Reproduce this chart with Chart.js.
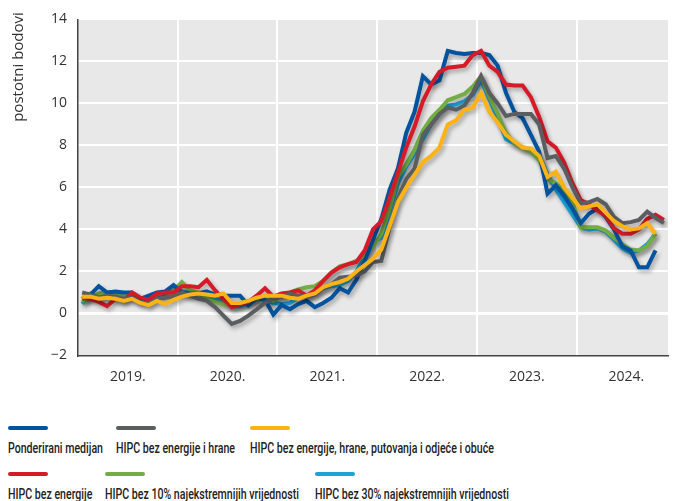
<!DOCTYPE html>
<html>
<head>
<meta charset="utf-8">
<script src="https://cdn.jsdelivr.net/npm/chart.js@4"></script>
<style>
  body { margin: 0; background: #fff; }
  #wrap { position: relative; width: 680px; height: 501px; }
  #chart { position: absolute; left: 0; top: 0; }
  .item { position: absolute; }
  .swatch { width: 40px; height: 4px; border-radius: 2px; margin-bottom: 9px; }
  .lbl { display: inline-block; font-family: Roboto, sans-serif; font-weight: 500; font-size: 14.5px; color: #222; white-space: nowrap; line-height: 16px; transform-origin: 0 0; }
</style>
</head>
<body>
<div id="wrap">
  <canvas id="chart" width="680" height="400"></canvas>
</div>
<script>
// mjesečni podaci, siječanj 2019. - studeni 2024.
const godine = ['2019.', '2020.', '2021.', '2022.', '2023.', '2024.'];

const medijan = [
  0.7, 0.9, 1.3, 1.0, 1.05, 1.0, 1.0, 0.7, 0.85, 1.0, 1.05, 1.35,
  1.0, 0.95, 0.95, 1.05, 0.9, 0.85, 0.85, 0.85, 0.4, 0.75, 0.65, -0.05,
  0.4, 0.2, 0.45, 0.6, 0.3, 0.5, 0.75, 1.2, 1.0, 1.6, 2.5, 3.5,
  4.5, 5.9, 6.9, 8.6, 9.6, 11.3, 10.9, 11.1, 12.5, 12.4, 12.35, 12.4,
  12.4, 12.3, 11.8, 10.5, 9.6, 9.3, 8.5, 7.7, 5.7, 6.1, 5.6, 5.0,
  4.3, 4.75, 5.0, 4.6, 4.0, 3.2, 3.0, 2.2, 2.2, 3.0
];
const bezEnergijeHrane = [
  1.0, 0.9, 0.75, 0.85, 0.8, 0.7, 0.75, 0.55, 0.45, 0.7, 0.75, 0.8,
  1.0, 0.85, 0.7, 0.6, 0.3, -0.1, -0.5, -0.35, -0.1, 0.2, 0.5, 0.75,
  0.8, 0.95, 0.85, 0.8, 0.9, 1.2, 1.4, 1.7, 1.75, 1.8, 2.0, 2.45,
  2.5, 4.1, 5.5, 6.4, 6.9, 8.5, 9.0, 9.5, 9.8, 9.7, 9.9, 10.5,
  11.3, 10.5, 10.0, 9.4, 9.5, 9.5, 9.5, 9.0, 7.4, 7.5, 6.9, 6.0,
  5.25, 5.3, 5.45, 5.2, 4.6, 4.3, 4.35, 4.45, 4.85, 4.55, 4.3
];
const bezEnergijeHranePutovanja = [
  0.8, 0.8, 0.7, 0.75, 0.7, 0.6, 0.7, 0.5, 0.4, 0.6, 0.45, 0.65,
  0.8, 0.9, 0.95, 0.9, 0.85, 0.95, 0.5, 0.5, 0.6, 0.75, 0.85, 0.85,
  0.85, 0.75, 0.7, 0.85, 0.95, 1.25, 1.4, 1.5, 1.65, 2.0, 2.3, 2.6,
  3.05, 4.15, 5.3, 6.0, 6.6, 7.2, 7.5, 7.9, 9.0, 9.2, 9.7, 9.8,
  10.5, 9.6, 9.1, 8.5, 8.2, 7.9, 7.85, 7.5, 6.5, 6.75, 6.0, 5.5,
  5.0, 5.1, 5.2, 4.8, 4.4, 4.15, 4.0, 4.05, 4.3, 3.8
];
const bezEnergije = [
  0.75, 0.7, 0.55, 0.35, 0.7, 0.6, 1.0, 0.75, 0.65, 0.95, 1.0, 1.0,
  1.3, 1.3, 1.25, 1.6, 1.1, 0.7, 0.3, 0.45, 0.55, 0.85, 1.2, 0.8,
  0.95, 1.0, 1.1, 0.85, 1.1, 1.55, 1.95, 2.2, 2.35, 2.45, 3.0, 4.0,
  4.4, 5.5, 6.7, 7.9, 8.9, 10.1, 10.9, 11.5, 11.7, 11.75, 11.8, 12.3,
  12.5, 11.8, 11.5, 10.9, 10.85, 10.85, 10.3, 9.35, 8.2, 7.9, 7.2, 6.2,
  5.4, 5.2, 4.9, 4.65, 4.05, 3.8, 3.8, 4.0, 4.5, 4.7, 4.45
];
const bez10 = [
  0.55, 0.75, 0.95, 1.0, 0.95, 0.8, 0.9, 0.7, 0.75, 0.9, 1.0, 1.1,
  1.5, 1.1, 1.0, 0.75, 0.55, 0.45, 0.35, 0.45, 0.6, 0.65, 0.8, 0.6,
  0.85, 1.0, 1.15, 1.25, 1.3, 1.55, 1.95, 2.25, 2.35, 2.5, 2.8, 3.2,
  3.8, 5.0, 6.5, 7.1, 7.8, 8.7, 9.3, 9.7, 10.15, 10.3, 10.45, 10.8,
  11.3, 10.3, 9.5, 8.6, 8.1, 7.9, 7.7, 7.3, 6.4, 6.2, 5.8, 5.3,
  4.1, 4.1, 4.1, 3.95, 3.6, 3.3, 3.05, 3.0, 3.2, 3.8
];
const bez30 = [
  0.45, 0.95, 0.8, 0.75, 0.9, 0.75, 0.85, 0.6, 0.7, 0.85, 0.95, 1.2,
  1.05, 1.0, 0.95, 0.8, 0.7, 0.55, 0.35, 0.35, 0.5, 0.65, 0.7, 0.5,
  0.45, 0.5, 0.75, 0.85, 1.0, 1.2, 1.3, 1.35, 1.55, 2.0, 2.7, 3.4,
  3.6, 4.8, 6.2, 7.0, 7.6, 8.3, 9.0, 9.5, 9.9, 9.95, 10.1, 10.4,
  11.1, 10.2, 9.3, 8.3, 8.1, 7.9, 7.75, 7.5, 6.6, 5.9, 5.3, 4.7,
  4.1, 4.0, 4.05, 3.9, 3.5, 3.1, 2.9, 3.0, 3.3, 3.8
];

const nazivi = [
  'Ponderirani medijan',
  'HIPC bez energije i hrane',
  'HIPC bez energije, hrane, putovanja i odjeće i obuće',
  'HIPC bez energije',
  'HIPC bez 10% najekstremnijih vrijednosti',
  'HIPC bez 30% najekstremnijih vrijednosti'
];
const serije = [medijan, bezEnergijeHrane, bezEnergijeHranePutovanja, bezEnergije, bez10, bez30];
const boje = ['#00539f', '#5b5e61', '#fdb316', '#d71a28', '#74ad44', '#1da2d8'];
const redCrtanja = [3, 1, 0, 2, 4, 5];

const datasets = serije.map(function(s, k) {
  return {
    label: nazivi[k],
    data: s.map(function(v, i) { return { x: i, y: v }; }),
    borderColor: boje[k],
    borderWidth: 4,
    pointRadius: 0,
    tension: 0,
    fill: false,
    order: redCrtanja[k]
  };
});

// granice godina na x osi
const granice = [11.5, 23.5, 35.5, 47.5, 59.5];

const plotPozadina = {
  id: 'plotPozadina',
  beforeDraw(chart) {
    const a = chart.chartArea, ctx = chart.ctx;
    ctx.save();
    ctx.fillStyle = '#e8e8e8';
    ctx.fillRect(a.left, a.top, a.right - a.left, a.bottom - a.top);
    ctx.restore();
  },
  beforeDatasetsDraw(chart) {
    const ctx = chart.ctx;
    ctx.save();
    ctx.shadowColor = 'rgba(0,0,0,0.3)';
    ctx.shadowBlur = 4;
    ctx.shadowOffsetX = 2;
    ctx.shadowOffsetY = 3;
  },
  afterDatasetsDraw(chart) {
    chart.ctx.restore();
  },
  afterDraw(chart) {
    const ctx = chart.ctx;
    ctx.save();
    ctx.translate(19, 67);
    ctx.rotate(-Math.PI / 2);
    ctx.font = '15px "Open Sans"';
    ctx.fillStyle = '#333';
    ctx.textAlign = 'center';
    ctx.textBaseline = 'middle';
    ctx.fillText('postotni bodovi', 0, 0);
    ctx.restore();
  }
};

new Chart(document.getElementById('chart'), {
  type: 'line',
  data: { datasets: datasets },
  plugins: [plotPozadina],
  options: {
    responsive: false,
    animation: false,
    layout: { padding: { top: 16, right: 12, left: 0, bottom: 0 } },
    plugins: { legend: { display: false }, tooltip: { enabled: false } },
    scales: {
      x: {
        type: 'linear',
        min: -0.5,
        max: 70.5,
        afterBuildTicks(scale) {
          const t = [];
          godine.forEach(function(g, k) { t.push({ value: k * 12 + 5.5 }); });
          granice.forEach(function(v) { t.push({ value: v }); });
          scale.ticks = t;
        },
        afterFit(scale) { scale.height = 44.5; },
        ticks: {
          autoSkip: false,
          maxRotation: 0,
          padding: 13,
          color: '#333',
          font: { family: 'Open Sans', size: 14 },
          callback: function(v) {
            const k = Math.round((v - 5.5) / 12);
            return Math.abs(k * 12 + 5.5 - v) < 0.01 ? godine[k] : '';
          }
        },
        grid: {
          drawTicks: false,
          lineWidth: 2,
          color: function(c) {
            return c.tick && granice.indexOf(c.tick.value) >= 0 ? '#ffffff' : 'rgba(0,0,0,0)';
          }
        },
        border: { display: true, color: '#444', width: 1.5 }
      },
      y: {
        min: -2,
        max: 14,
        afterFit(scale) { scale.width = 78; },
        ticks: {
          stepSize: 2,
          padding: 11,
          color: '#333',
          font: { family: 'Open Sans', size: 14 },
          callback: function(v) { return v < 0 ? '\u22122' : v; }
        },
        grid: {
          drawTicks: false,
          lineWidth: function(c) { return c.tick && c.tick.value === 0 ? 3 : 2; },
          color: function(c) { return c.tick && c.tick.value === -2 ? 'rgba(0,0,0,0)' : '#ffffff'; }
        },
        border: { display: true, color: '#444', width: 1.5 }
      }
    }
  }
});

// legenda ispod grafikona: swatch iznad teksta, uski font
const legendaX = [8, 116, 250, 8, 105, 315];
const legendaY = [426, 426, 426, 472, 472, 472];
const wrap = document.getElementById('wrap');
const stavke = nazivi.map(function(n, k) {
  const item = document.createElement('div');
  item.className = 'item';
  item.style.left = legendaX[k] + 'px';
  item.style.top = legendaY[k] + 'px';
  item.innerHTML = '<div class="swatch" style="background:' + boje[k] + '"></div><span class="lbl">' + n + '</span>';
  wrap.appendChild(item);
  return item.querySelector('.lbl');
});
// suzi tekst da prvi naziv bude širok ~95 px kao u izvorniku
const sx = 95 / stavke[0].getBoundingClientRect().width;
stavke.forEach(function(el) { el.style.transform = 'scaleX(' + sx + ')'; });
</script>
</body>
</html>
